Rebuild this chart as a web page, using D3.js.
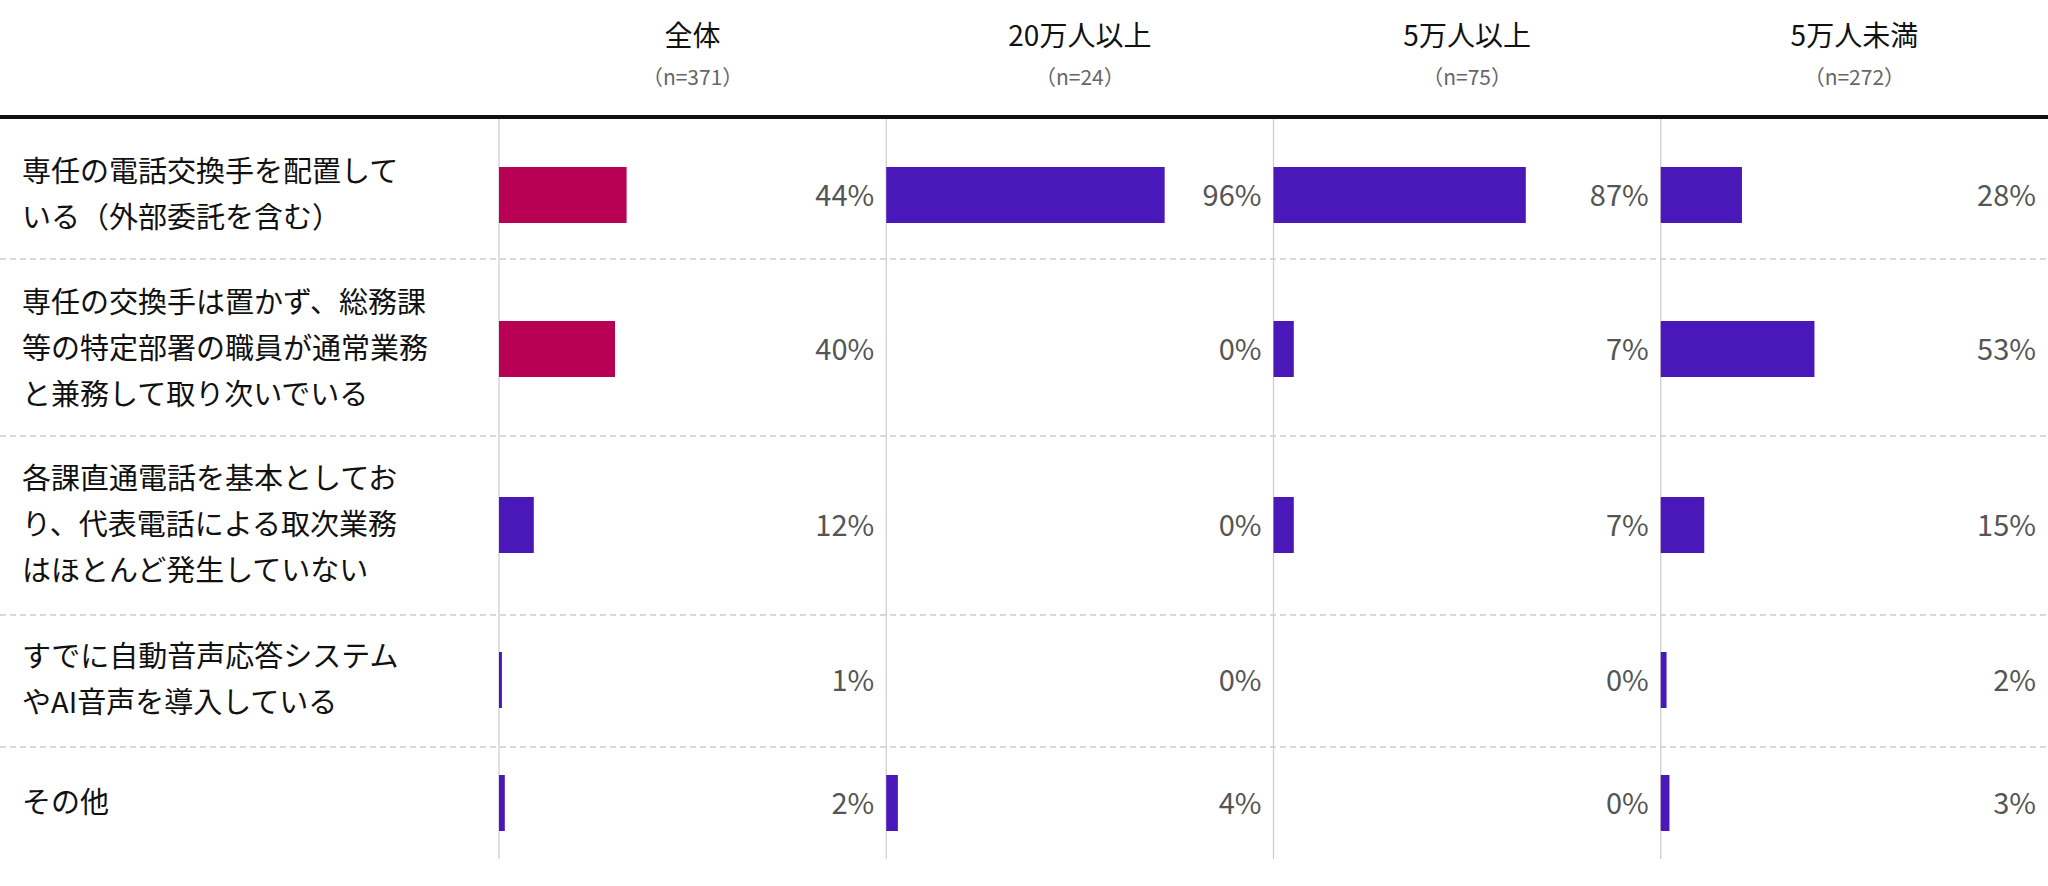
<html>
<head>
<meta charset="UTF-8">
<script src="https://d3js.org/d3.v7.min.js"></script>
<style>
  body { margin: 0; background: #fff; font-family: "Noto Sans CJK JP", sans-serif; }
</style>
</head>
<body>
<div id="chart"></div>
<script>
  // data
  const categories = [
    ["専任の電話交換手を配置して", "いる（外部委託を含む）"],
    ["専任の交換手は置かず、総務課", "等の特定部署の職員が通常業務", "と兼務して取り次いでいる"],
    ["各課直通電話を基本としてお", "り、代表電話による取次業務", "はほとんど発生していない"],
    ["すでに自動音声応答システム", "やAI音声を導入している"],
    ["その他"]
  ];
  const groups = ["全体", "20万人以上", "5万人以上", "5万人未満"];
  const groupN = ["（n=371）", "（n=24）", "（n=75）", "（n=272）"];
  const values = [
    [44, 40, 12, 1, 2],
    [96, 0, 0, 0, 4],
    [87, 7, 7, 0, 0],
    [28, 53, 15, 2, 3]
  ];
  const highlight = [true, true, false, false, false]; // first column only

  const W = 2048, H = 886;
  const svg = d3.select("#chart").append("svg").attr("width", W).attr("height", H);

  const rowEdges = [117, 259, 436, 615, 747, 859];
  const barCenters = [195, 349, 525, 680, 803];
  const colStart = 499, colW = 387.2;

  const col = d3.scaleBand().domain(groups).range([colStart, W]).paddingInner(0);
  const x = d3.scaleLinear().domain([0, 100]).range([0, 290]);

  // row separators
  rowEdges.slice(1, -1).forEach(y => {
    svg.append("line").attr("x1", 0).attr("x2", W).attr("y1", y).attr("y2", y)
      .attr("stroke", "#ccc").attr("stroke-width", 1.5).attr("stroke-dasharray", "6,4");
  });
  // column separators
  groups.forEach(g => {
    svg.append("line").attr("x1", col(g)).attr("x2", col(g))
      .attr("y1", rowEdges[0]).attr("y2", rowEdges[5])
      .attr("stroke", "#ccc").attr("stroke-width", 1.2);
  });
  // header line
  svg.append("line").attr("x1", 0).attr("x2", W).attr("y1", 117).attr("y2", 117)
    .attr("stroke", "#111").attr("stroke-width", 4);

  // headers
  groups.forEach((g, i) => {
    const cx = col(g) + col.bandwidth() / 2;
    svg.append("text").attr("x", cx).attr("y", 46).attr("text-anchor", "middle")
      .attr("font-size", 28).attr("fill", "#111").text(g);
    svg.append("text").attr("x", cx).attr("y", 85).attr("text-anchor", "middle")
      .attr("font-size", 21).attr("fill", "#666").text(groupN[i]);
  });

  // category labels
  categories.forEach((lines, r) => {
    const n = lines.length;
    lines.forEach((t, k) => {
      svg.append("text").attr("x", 22)
        .attr("y", barCenters[r] + (k - (n - 1) / 2) * 46 + 10)
        .attr("font-size", 29).attr("fill", "#111").text(t);
    });
  });

  // bars + values
  groups.forEach((g, c) => {
    values[c].forEach((v, r) => {
      svg.append("rect").attr("x", col(g)).attr("y", barCenters[r] - 28)
        .attr("width", x(v)).attr("height", 56)
        .attr("fill", c === 0 && highlight[r] ? "#B80054" : "#4A17B8");
      svg.append("text").attr("x", col(g) + col.bandwidth() - 12).attr("y", barCenters[r] + 11)
        .attr("text-anchor", "end").attr("font-size", 29).attr("fill", "#555").text(v + "%");
    });
  });
</script>
</body>
</html>
